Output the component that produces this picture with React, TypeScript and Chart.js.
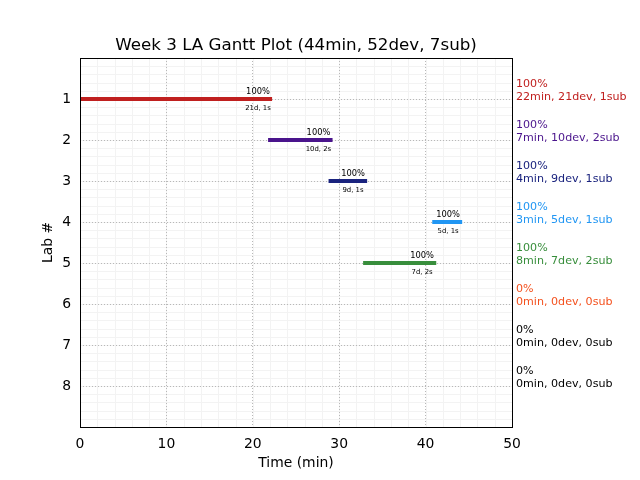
import React, { useEffect, useRef } from "react";
import { Chart, registerables } from "chart.js";

Chart.register(...registerables);

const TITLE = "Week 3 LA Gantt Plot (44min, 52dev, 7sub)";
const X_LABEL = "Time (min)";
const Y_LABEL = "Lab #";

const labs = [1, 2, 3, 4, 5, 6, 7, 8];
const starts: (number | null)[] = [0, 22, 29, 41, 33, null, null, null];
const ends: (number | null)[] = [22, 29, 33, 44, 41, null, null, null];
const pcts = [100, 100, 100, 100, 100, 0, 0, 0];
const mins = [22, 7, 4, 3, 8, 0, 0, 0];
const devs = [21, 10, 9, 5, 7, 0, 0, 0];
const subs = [1, 2, 1, 1, 2, 0, 0, 0];
const colors = ["#c0201f", "#4a148c", "#1a237e", "#2196f3", "#388e3c", "#f4511e", "#000000", "#000000"];

const X_MIN = 0;
const X_MAX = 50;
const X_STEP = 10;
const Y_MIN = 0;
const Y_MAX = 9;

const FONT = '"DejaVu Sans", sans-serif';

const ganttPlugin = {
  id: "ganttExtras",
  beforeDraw(chart: any) {
    const { ctx, chartArea: a, scales } = chart;
    const x = scales.x;
    const y = scales.y;
    ctx.save();
    ctx.strokeStyle = "#f3f3f3";
    ctx.lineWidth = 1;
    ctx.beginPath();
    for (let v = X_MIN; v <= X_MAX + 1e-9; v += 2) {
      const px = Math.round(x.getPixelForValue(v)) + 0.5;
      ctx.moveTo(px, a.top);
      ctx.lineTo(px, a.bottom);
    }
    for (let i = 0; i <= Math.round((Y_MAX - Y_MIN) / 0.2); i++) {
      const py = Math.round(y.getPixelForValue(Y_MIN + i * 0.2)) + 0.5;
      ctx.moveTo(a.left, py);
      ctx.lineTo(a.right, py);
    }
    ctx.stroke();
    ctx.restore();
  },
  afterDatasetsDraw(chart: any) {
    const { ctx, scales } = chart;
    const x = scales.x;
    const y = scales.y;
    ctx.save();
    ctx.fillStyle = "#000";
    ctx.textAlign = "center";
    ctx.textBaseline = "middle";
    labs.forEach((lab, i) => {
      const e = ends[i];
      if (e === null) return;
      const cx = x.getPixelForValue(e - 1.4);
      const cy = y.getPixelForValue(lab);
      ctx.font = `8.3px ${FONT}`;
      ctx.fillText(`${pcts[i]}%`, cx, cy - 7.5);
      ctx.font = `6.9px ${FONT}`;
      ctx.fillText(`${devs[i]}d, ${subs[i]}s`, cx, cy + 9.5);
    });
    // right side summaries
    ctx.textAlign = "left";
    ctx.textBaseline = "alphabetic";
    ctx.font = `11.1px ${FONT}`;
    labs.forEach((lab, i) => {
      const px = x.getPixelForValue(X_MAX) + 4;
      const py = y.getPixelForValue(lab);
      ctx.fillStyle = colors[i];
      ctx.fillText(`${pcts[i]}%`, px, py - 12);
      ctx.fillText(`${mins[i]}min, ${devs[i]}dev, ${subs[i]}sub`, px, py + 0.5);
    });
    ctx.restore();
  },
  afterDraw(chart: any) {
    const { ctx, chartArea: a } = chart;
    ctx.save();
    ctx.strokeStyle = "#000";
    ctx.lineWidth = 1;
    ctx.strokeRect(Math.round(a.left) + 0.5, Math.round(a.top) + 0.5, Math.round(a.right - a.left), Math.round(a.bottom - a.top));
    ctx.fillStyle = "#000";
    ctx.font = `16.7px ${FONT}`;
    ctx.textAlign = "center";
    ctx.textBaseline = "middle";
    ctx.fillText(TITLE, (a.left + a.right) / 2, a.top - 12);
    ctx.restore();
  },
};

export default function App() {
  const ref = useRef<HTMLCanvasElement | null>(null);
  useEffect(() => {
    if (!ref.current) return;
    const datasets = labs
      .map((lab, i) => {
        const s = starts[i];
        const e = ends[i];
        if (s === null || e === null) return null;
        return {
          label: `Lab ${lab}`,
          data: [
            { x: s, y: lab },
            { x: e, y: lab },
          ],
          borderColor: colors[i],
          backgroundColor: colors[i],
          borderWidth: 4,
          borderCapStyle: "square",
          pointRadius: 0,
          showLine: true,
          fill: false,
          tension: 0,
        };
      })
      .filter(Boolean) as any[];

    const chart = new Chart(ref.current, {
      type: "line",
      data: { datasets },
      plugins: [ganttPlugin],
      options: {
        animation: false,
        responsive: false,
        devicePixelRatio: 1,
        events: [],
        layout: { padding: { left: 0, top: 58, right: 128, bottom: 0 } },
        plugins: {
          legend: { display: false },
          title: { display: false },
          tooltip: { enabled: false },
        },
        scales: {
          x: {
            type: "linear",
            min: X_MIN,
            max: X_MAX,
            ticks: {
              stepSize: X_STEP,
              color: "#000",
              font: { family: FONT, size: 13.9 },
              padding: 9,
              maxRotation: 0,
            },
            grid: { color: "#b8b8b8", lineWidth: 1, drawTicks: false },
            border: { display: false, dash: [1, 2] },
            title: {
              display: true,
              text: X_LABEL,
              color: "#000",
              font: { family: FONT, size: 13.9 },
              padding: { top: 0, bottom: 8 },
            },
            afterFit: (s: any) => {
              s.height = 53;
            },
          },
          y: {
            type: "linear",
            min: Y_MIN,
            max: Y_MAX,
            reverse: true,
            afterBuildTicks: (s: any) => {
              s.ticks = labs.map((v) => ({ value: v }));
            },
            ticks: {
              color: "#000",
              font: { family: FONT, size: 13.9 },
              padding: 9,
              callback: (v: any) => String(v),
            },
            grid: { color: "#b8b8b8", lineWidth: 1, drawTicks: false },
            border: { display: false, dash: [1, 2] },
            title: {
              display: true,
              text: Y_LABEL,
              color: "#000",
              font: { family: FONT, size: 13.9 },
              padding: { top: 40, bottom: 0 },
            },
            afterFit: (s: any) => {
              s.width = 80;
            },
          },
        },
      } as any,
    });
    return () => chart.destroy();
  }, []);

  return (
    <div style={{ position: "fixed", left: 0, top: 0, width: 640, height: 480, background: "#fff" }}>
      <canvas ref={ref} width={640} height={480} style={{ width: 640, height: 480, display: "block" }} />
    </div>
  );
}
